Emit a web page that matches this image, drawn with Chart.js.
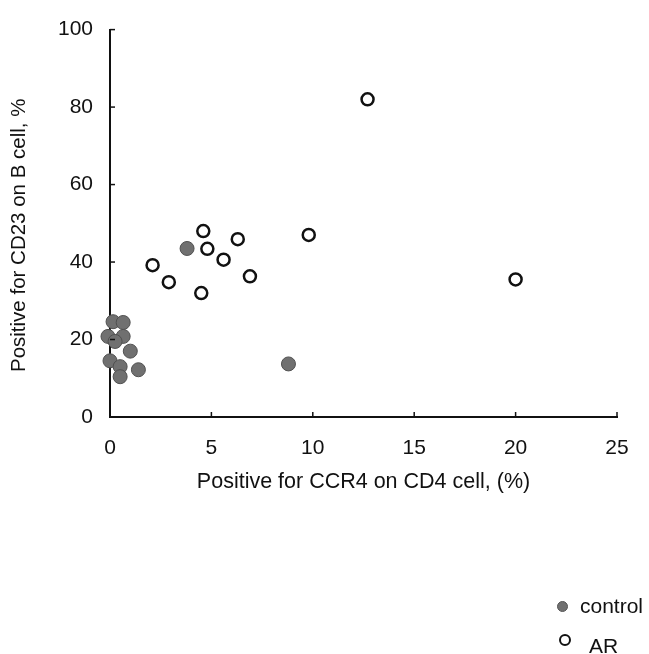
<!DOCTYPE html>
<html>
<head>
<meta charset="utf-8">
<script src="https://cdn.jsdelivr.net/npm/chart.js@4.4.1/dist/chart.umd.min.js"></script>
<style>
  html, body { margin: 0; padding: 0; background: #fff; }
  #wrap { position: relative; width: 649px; height: 654px; }
  canvas { position: absolute; left: 0; top: 0; }
  .leg { position: absolute; font-family: "Liberation Sans", Arial, sans-serif; font-size: 21px; color: #111; white-space: nowrap; line-height: 24px; }
  .dot { position: absolute; border-radius: 50%; box-sizing: border-box; }
</style>
</head>
<body>
<div id="wrap">
  <canvas id="c" width="649" height="654"></canvas>
  <div class="dot" style="left:557px; top:601px; width:11px; height:11px; background:#707070; border:1px solid #555;"></div>
  <div class="leg" style="left:580px; top:594px;">control</div>
  <div class="dot" style="left:559px; top:634px; width:12px; height:12px; background:#fff; border:2.5px solid #111;"></div>
  <div class="leg" style="left:589px; top:634px;">AR</div>
</div>
<script>
// ---- data ----
const seriesNames = ["control", "AR"];
const controlX = [3.8, 8.8, -0.1, 0.15, 0.65, 0.65, 0.25, 1.0, 0.0, 0.5, 0.5, 1.4];
const controlY = [43.5, 13.7, 20.8, 24.6, 24.4, 20.8, 19.5, 17.0, 14.5, 13.0, 10.4, 12.2];
const arX = [12.7, 2.1, 2.9, 4.6, 4.8, 4.5, 5.6, 6.3, 6.9, 9.8, 20.0];
const arY = [82, 39.2, 34.8, 48, 43.4, 32, 40.6, 45.9, 36.3, 47, 35.5];
const xTicks = [0, 5, 10, 15, 20, 25];
const yTicks = [0, 20, 40, 60, 80, 100];
const xTitle = "Positive for CCR4 on CD4 cell, (%)";
const yTitle = "Positive for CD23 on B cell, %";

const toPts = (xs, ys) => xs.map((x, i) => ({ x: x, y: ys[i] }));
const FONT = "'Liberation Sans', Arial, sans-serif";

const innerTicks = {
  id: 'innerTicks',
  afterDraw(chart) {
    const ctx = chart.ctx;
    const xs = chart.scales.x, ys = chart.scales.y;
    ctx.save();
    ctx.strokeStyle = '#111';
    ctx.lineWidth = 1.5;
    const x0 = xs.left, y0 = ys.bottom;
    yTicks.forEach(v => {
      if (v === 0) return;
      const py = ys.getPixelForValue(v);
      ctx.beginPath(); ctx.moveTo(x0, py); ctx.lineTo(x0 + 5, py); ctx.stroke();
    });
    xTicks.forEach(v => {
      if (v === 0) return;
      const px = xs.getPixelForValue(v);
      ctx.beginPath(); ctx.moveTo(px, y0); ctx.lineTo(px, y0 - 5); ctx.stroke();
    });
    // y axis title (slightly below the axis centre, as in the reference)
    ctx.fillStyle = '#111';
    ctx.font = "20.5px " + FONT;
    ctx.textAlign = 'center';
    ctx.textBaseline = 'middle';
    ctx.translate(19, (ys.top + ys.bottom) / 2 + 12);
    ctx.rotate(-Math.PI / 2);
    ctx.fillText(yTitle, 0, 0);
    ctx.restore();
  }
};

new Chart(document.getElementById('c'), {
  type: 'scatter',
  data: {
    datasets: [
      {
        label: seriesNames[0],
        data: toPts(controlX, controlY),
        pointRadius: 7,
        pointHoverRadius: 7,
        backgroundColor: '#707070',
        borderColor: '#505050',
        borderWidth: 1,
        clip: false
      },
      {
        label: seriesNames[1],
        data: toPts(arX, arY),
        pointRadius: 6,
        pointHoverRadius: 6,
        backgroundColor: '#ffffff',
        borderColor: '#111111',
        borderWidth: 2.5,
        clip: false
      }
    ]
  },
  options: {
    responsive: false,
    animation: false,
    events: [],
    layout: { padding: { left: 8, right: 32, top: 23, bottom: 159 } },
    plugins: { legend: { display: false }, tooltip: { enabled: false } },
    scales: {
      x: {
        type: 'linear',
        min: 0, max: 25,
        afterBuildTicks: s => { s.ticks = xTicks.map(v => ({ value: v })); },
        afterFit: s => { s.height = 78; },
        grid: { display: false, drawTicks: false },
        border: { display: true, color: '#111', width: 2 },
        ticks: { padding: 19, color: '#111', font: { family: FONT, size: 21 }, maxRotation: 0 },
        title: { display: true, text: xTitle, color: '#111', font: { family: FONT, size: 21.5 }, padding: 0 }
      },
      y: {
        type: 'linear',
        min: 0, max: 100,
        afterBuildTicks: s => { s.ticks = yTicks.map(v => ({ value: v })); },
        afterFit: s => { s.width = 102; },
        grid: { display: false, drawTicks: false },
        border: { display: true, color: '#111', width: 2 },
        ticks: { padding: 17, color: '#111', font: { family: FONT, size: 21 } },
        title: { display: false, text: yTitle }
      }
    }
  },
  plugins: [innerTicks]
});
</script>
</body>
</html>
